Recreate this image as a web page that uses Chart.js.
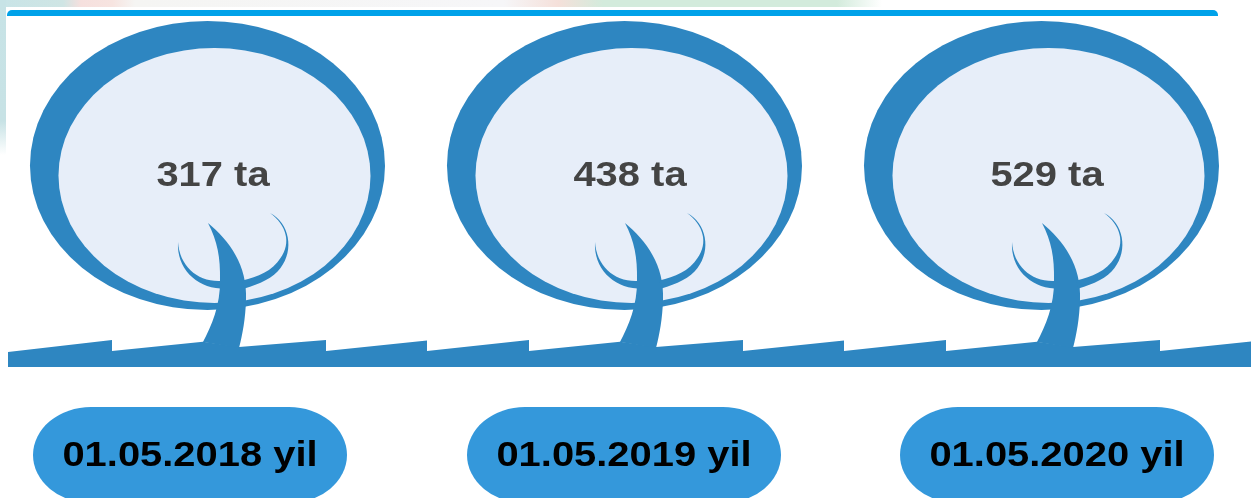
<!DOCTYPE html>
<html>
<head>
<meta charset="utf-8">
<title>317 ta, 438 ta, 529 ta</title>
<script src="https://cdn.jsdelivr.net/npm/chart.js@4/dist/chart.umd.min.js"></script>
<style>
  html, body { margin: 0; padding: 0; background: #fff; overflow: hidden; }
  canvas { display: block; }
</style>
</head>
<body>
<canvas id="treeChart" width="1251" height="498"></canvas>
<script>
const dateLabels = ['01.05.2018 yil', '01.05.2019 yil', '01.05.2020 yil'];
const treeCounts = [317, 438, 529];
const countUnit = 'ta';

// date pills do not sit exactly under their trees in the picture
const pillShift = [-18.5, -1.5, 14.5];

const treeBlue = '#2e86c1';
const crownFill = '#e7eef9';
const pillBlue = '#3498db';
const barBlue = '#00a2e9';

function stretchedText(ctx, text, x, y, color) {
  ctx.save();
  ctx.translate(x, y);
  ctx.scale(1.14, 1);
  ctx.font = 'bold 35px "Liberation Sans"';
  ctx.textAlign = 'center';
  ctx.textBaseline = 'alphabetic';
  ctx.fillStyle = color;
  ctx.fillText(text, 0, 0);
  ctx.restore();
}

function drawBackdrop(ctx) {
  // scraps of the slide behind the picture, top and left edge
  const top = ctx.createLinearGradient(0, 0, 900, 0);
  top.addColorStop(0, '#c8e4e7');
  top.addColorStop(0.07, '#cfe5e4');
  top.addColorStop(0.09, '#f6e0de');
  top.addColorStop(0.125, '#f7e4e0');
  top.addColorStop(0.15, '#f5f5f3');
  top.addColorStop(0.56, '#f6f6f8');
  top.addColorStop(0.62, '#f5e0da');
  top.addColorStop(0.67, '#d3ebdc');
  top.addColorStop(0.93, '#d3ebdc');
  top.addColorStop(0.98, '#ffffff');
  ctx.fillStyle = top;
  ctx.fillRect(0, 0, 900, 7);

  const left = ctx.createLinearGradient(0, 0, 0, 155);
  left.addColorStop(0, '#c7e3e6');
  left.addColorStop(0.78, '#c7e2e5');
  left.addColorStop(1, '#ffffff');
  ctx.fillStyle = left;
  ctx.fillRect(0, 0, 6, 155);

  ctx.fillStyle = barBlue;
  ctx.beginPath();
  ctx.roundRect(7, 10, 1211, 6, [5, 5, 0, 0]);
  ctx.fill();
}

function drawGround(ctx, x) {
  // three saw teeth per tree, repeated along the whole width
  ctx.fillStyle = treeBlue;
  ctx.beginPath();
  if (x < 300) {
    ctx.moveTo(8, 367);
    ctx.lineTo(8, 352);
    ctx.lineTo(x - 96.5, 340);
  } else {
    ctx.moveTo(x - 96.5, 367);
    ctx.lineTo(x - 96.5, 340);
  }
  ctx.lineTo(x - 96.5, 351);
  ctx.lineTo(x - 5.5, 341.7);
  ctx.lineTo(x + 30.5, 347);
  ctx.lineTo(x + 117.5, 340);
  ctx.lineTo(x + 117.5, 351);
  ctx.lineTo(x + 218.5, 340.5);
  ctx.lineTo(x + 218.5, 351);
  ctx.lineTo(x + 320.5, 340);
  ctx.lineTo(x + 320.5, 367);
  ctx.closePath();
  ctx.fill();
}

function drawTree(ctx, x) {
  const cx = x - 1;
  ctx.fillStyle = treeBlue;
  ctx.beginPath();
  ctx.ellipse(cx, 165.5, 177.5, 144.5, 0, 0, Math.PI * 2);
  ctx.fill();

  ctx.fillStyle = crownFill;
  ctx.beginPath();
  ctx.ellipse(cx + 7, 175.5, 156, 127.5, 0, 0, Math.PI * 2);
  ctx.fill();

  ctx.fillStyle = treeBlue;
  // trunk
  ctx.beginPath();
  ctx.moveTo(cx + 0.5, 223);
  ctx.bezierCurveTo(cx + 22, 241, cx + 40, 265, cx + 38.5, 300);
  ctx.bezierCurveTo(cx + 38, 318, cx + 35, 335, cx + 31.5, 348);
  ctx.lineTo(cx - 4.5, 342);
  ctx.bezierCurveTo(cx + 4, 326, cx + 13, 305, cx + 12.5, 280);
  ctx.bezierCurveTo(cx + 13, 258, cx + 10, 241, cx + 0.5, 223);
  ctx.closePath();
  ctx.fill();

  // left branch
  ctx.beginPath();
  ctx.moveTo(cx - 29.5, 242);
  ctx.bezierCurveTo(cx - 31, 268, cx - 12, 287, cx + 13, 288.5);
  ctx.lineTo(cx + 13, 281);
  ctx.bezierCurveTo(cx - 10, 282, cx - 28, 266, cx - 29.5, 242);
  ctx.closePath();
  ctx.fill();

  // right branch
  ctx.beginPath();
  ctx.moveTo(cx + 62.5, 213);
  ctx.bezierCurveTo(cx + 82, 223, cx + 87, 250, cx + 73, 268);
  ctx.bezierCurveTo(cx + 66, 278, cx + 52, 284, cx + 37, 288.5);
  ctx.lineTo(cx + 35, 280.5);
  ctx.bezierCurveTo(cx + 50, 277, cx + 65, 271, cx + 73, 258);
  ctx.bezierCurveTo(cx + 84, 243, cx + 79, 225, cx + 62.5, 213);
  ctx.closePath();
  ctx.fill();
}

function drawPill(ctx, x) {
  ctx.fillStyle = pillBlue;
  ctx.beginPath();
  ctx.roundRect(x - 157, 407, 314, 96, { x: 58, y: 48 });
  ctx.fill();
}

// the bars only give the x positions, the trees are drawn on them
const treePlugin = {
  id: 'treePlugin',
  beforeDatasetsDraw(chart) {
    const ctx = chart.ctx;
    const bars = chart.getDatasetMeta(0).data;
    drawBackdrop(ctx);
    bars.forEach(bar => drawGround(ctx, bar.x));
    bars.forEach((bar, i) => {
      drawTree(ctx, bar.x);
      stretchedText(ctx, treeCounts[i] + ' ' + countUnit, bar.x + 4.5, 186, '#444444');
      drawPill(ctx, bar.x + pillShift[i]);
      stretchedText(ctx, dateLabels[i], bar.x + pillShift[i], 465.5, '#000000');
    });
  }
};

new Chart(document.getElementById('treeChart').getContext('2d'), {
  type: 'bar',
  data: {
    labels: dateLabels,
    datasets: [{
      label: countUnit,
      data: treeCounts,
      backgroundColor: 'rgba(0,0,0,0)'
    }]
  },
  options: {
    responsive: false,
    animation: false,
    layout: { padding: 0 },
    plugins: {
      legend: { display: false },
      title: { display: false },
      tooltip: { enabled: false }
    },
    scales: {
      x: { display: false },
      y: { display: false, beginAtZero: true }
    }
  },
  plugins: [treePlugin]
});
</script>
</body>
</html>
